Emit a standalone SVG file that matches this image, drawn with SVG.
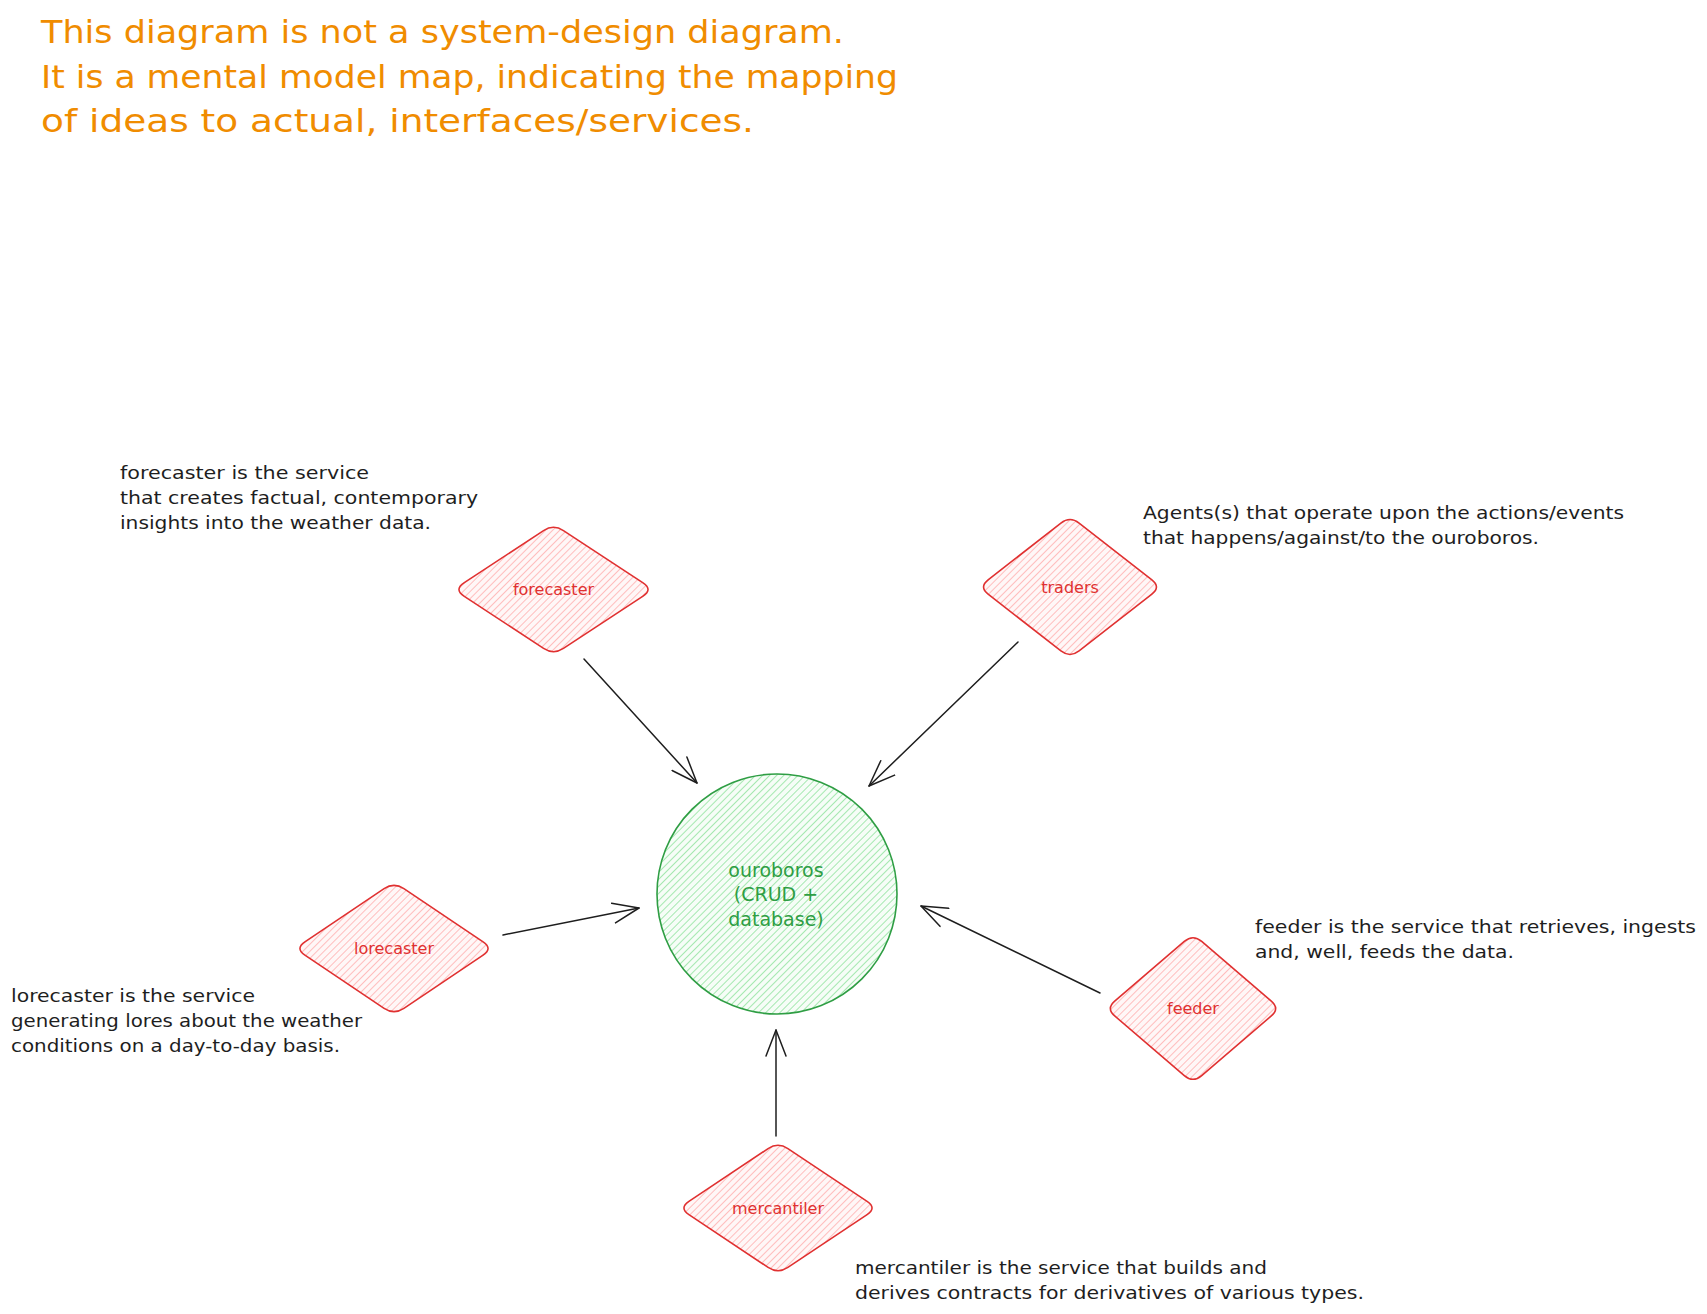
<svg xmlns="http://www.w3.org/2000/svg" width="1707" height="1314" viewBox="0 0 1707 1314">
<style>
.title{font-family:"DejaVu Sans","Liberation Sans",sans-serif;font-size:32px;fill:#f08c00;}
.note{font-family:"DejaVu Sans","Liberation Sans",sans-serif;font-size:18px;fill:#1e1e1e;}
.lbl{font-family:"DejaVu Sans","Liberation Sans",sans-serif;font-size:16px;fill:#e03131;text-anchor:middle;dominant-baseline:central;}
.glbl{font-family:"DejaVu Sans","Liberation Sans",sans-serif;font-size:19px;fill:#2f9e44;text-anchor:middle;dominant-baseline:central;}
.dia{fill:url(#hatchR);stroke:#e03131;stroke-width:1.6;stroke-linejoin:round;}
.circ{fill:url(#hatchG);stroke:#2f9e44;stroke-width:1.6;}
.arr{fill:none;stroke:#1e1e1e;stroke-width:1.5;stroke-linecap:round;marker-end:url(#ah);}
</style>
<defs>
<pattern id="hatchR" patternUnits="userSpaceOnUse" width="5" height="5" patternTransform="rotate(45)">
<rect width="5" height="5" fill="#fff7f7"/>
<line x1="2.5" y1="0" x2="2.5" y2="5" stroke="#ffbdbd" stroke-width="1"/>
</pattern>
<pattern id="hatchG" patternUnits="userSpaceOnUse" width="5" height="5" patternTransform="rotate(45)">
<rect width="5" height="5" fill="#f6fdf7"/>
<line x1="2.5" y1="0" x2="2.5" y2="5" stroke="#a5e8b0" stroke-width="1"/>
</pattern>
<marker id="ah" viewBox="0 0 28 22" refX="27" refY="11" markerWidth="28" markerHeight="22" markerUnits="userSpaceOnUse" orient="auto">
<path d="M1,1 L27,11 L1,21" fill="none" stroke="#1e1e1e" stroke-width="1.5" stroke-linecap="round" stroke-linejoin="round"/>
</marker>
</defs>
<rect width="1707" height="1314" fill="#ffffff"/>

<g id="title">
<text class="title" x="41" y="43" textLength="803" lengthAdjust="spacingAndGlyphs">This diagram is not a system-design diagram.</text>
<text class="title" x="41" y="88" textLength="857" lengthAdjust="spacingAndGlyphs">It is a mental model map, indicating the mapping</text>
<text class="title" x="41" y="132" textLength="713" lengthAdjust="spacingAndGlyphs">of ideas to actual, interfaces/services.</text>
</g>

<g id="connectors">
<line class="arr" x1="584" y1="659" x2="697" y2="783"/>
<line class="arr" x1="1018" y1="642" x2="869" y2="786"/>
<line class="arr" x1="503" y1="935" x2="639" y2="908"/>
<line class="arr" x1="1100" y1="993" x2="921" y2="906"/>
<line class="arr" x1="776" y1="1136" x2="776" y2="1030"/>
</g>

<g id="ouroboros">
<circle class="circ" cx="777" cy="894" r="120"/>
<text class="glbl" x="776" y="870">ouroboros</text>
<text class="glbl" x="776" y="894">(CRUD +</text>
<text class="glbl" x="776" y="919">database)</text>
</g>

<g id="forecaster" transform="translate(553.5,589.5)">
<path class="dia" d="M -9.95,-58.95 Q 0,-65.5 9.95,-58.95 L 89.55,-6.55 Q 99.5,0 89.55,6.55 L 9.95,58.95 Q 0,65.5 -9.95,58.95 L -89.55,6.55 Q -99.5,0 -89.55,-6.55 Z"/>
<text class="lbl" x="0" y="0">forecaster</text>
</g>

<g id="traders" transform="translate(1070,587)">
<path class="dia" d="M -9.1,-63.9 Q 0,-71 9.1,-63.9 L 81.9,-7.1 Q 91,0 81.9,7.1 L 9.1,63.9 Q 0,71 -9.1,63.9 L -81.9,7.1 Q -91,0 -81.9,-7.1 Z"/>
<text class="lbl" x="0" y="0">traders</text>
</g>

<g id="lorecaster" transform="translate(394,948.5)">
<path class="dia" d="M -9.9,-59.85 Q 0,-66.5 9.9,-59.85 L 89.1,-6.65 Q 99,0 89.1,6.65 L 9.9,59.85 Q 0,66.5 -9.9,59.85 L -89.1,6.65 Q -99,0 -89.1,-6.65 Z"/>
<text class="lbl" x="0" y="0">lorecaster</text>
</g>

<g id="feeder" transform="translate(1193,1008.5)">
<path class="dia" d="M -8.7,-67.05 Q 0,-74.5 8.7,-67.05 L 78.3,-7.45 Q 87,0 78.3,7.45 L 8.7,67.05 Q 0,74.5 -8.7,67.05 L -78.3,7.45 Q -87,0 -78.3,-7.45 Z"/>
<text class="lbl" x="0" y="0">feeder</text>
</g>

<g id="mercantiler" transform="translate(778,1208)">
<path class="dia" d="M -9.9,-59.4 Q 0,-66 9.9,-59.4 L 89.1,-6.6 Q 99,0 89.1,6.6 L 9.9,59.4 Q 0,66 -9.9,59.4 L -89.1,6.6 Q -99,0 -89.1,-6.6 Z"/>
<text class="lbl" x="0" y="0">mercantiler</text>
</g>

<g id="note-forecaster">
<text class="note" x="120" y="479" textLength="249" lengthAdjust="spacingAndGlyphs">forecaster is the service</text>
<text class="note" x="120" y="504" textLength="358" lengthAdjust="spacingAndGlyphs">that creates factual, contemporary</text>
<text class="note" x="120" y="529" textLength="311" lengthAdjust="spacingAndGlyphs">insights into the weather data.</text>
</g>

<g id="note-traders">
<text class="note" x="1143" y="519" textLength="481" lengthAdjust="spacingAndGlyphs">Agents(s) that operate upon the actions/events</text>
<text class="note" x="1143" y="544" textLength="396" lengthAdjust="spacingAndGlyphs">that happens/against/to the ouroboros.</text>
</g>

<g id="note-lorecaster">
<text class="note" x="11" y="1002" textLength="244" lengthAdjust="spacingAndGlyphs">lorecaster is the service</text>
<text class="note" x="11" y="1027" textLength="351" lengthAdjust="spacingAndGlyphs">generating lores about the weather</text>
<text class="note" x="11" y="1052" textLength="329" lengthAdjust="spacingAndGlyphs">conditions on a day-to-day basis.</text>
</g>

<g id="note-feeder">
<text class="note" x="1255" y="933" textLength="441" lengthAdjust="spacingAndGlyphs">feeder is the service that retrieves, ingests</text>
<text class="note" x="1255" y="958" textLength="259" lengthAdjust="spacingAndGlyphs">and, well, feeds the data.</text>
</g>

<g id="note-mercantiler">
<text class="note" x="855" y="1274" textLength="412" lengthAdjust="spacingAndGlyphs">mercantiler is the service that builds and</text>
<text class="note" x="855" y="1299" textLength="509" lengthAdjust="spacingAndGlyphs">derives contracts for derivatives of various types.</text>
</g>
</svg>
